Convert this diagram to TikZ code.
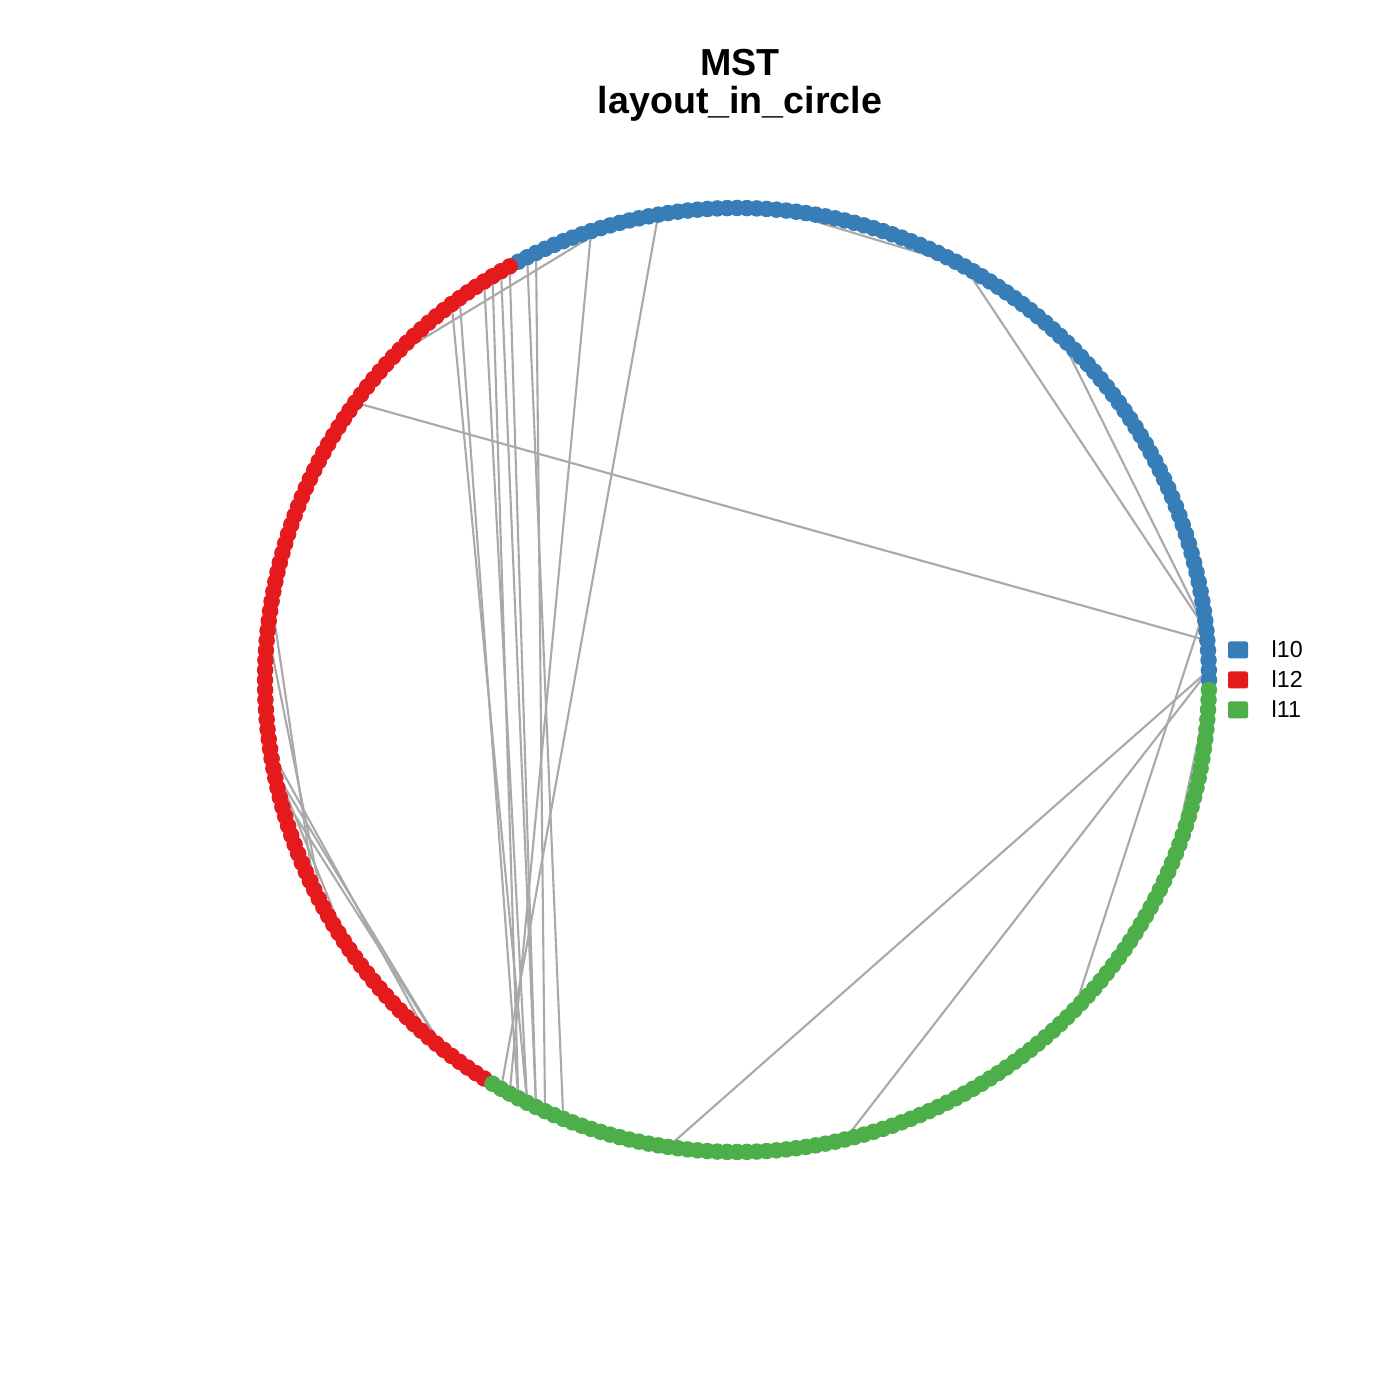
\documentclass[tikz,border=0pt]{standalone}
\usepackage{fontspec}
\setmainfont{Liberation Sans}
\definecolor{cblue}{HTML}{377EB8}
\definecolor{cred}{HTML}{E41A1C}
\definecolor{cgreen}{HTML}{4DAF4A}
\definecolor{edgegray}{HTML}{A9A9A9}
\tikzset{
  vdot/.style={circle, inner sep=0pt, minimum size=0.165cm, draw=none},
  edge/.style={draw=edgegray, line width=0.6pt},
  legbox/.style={rectangle, rounded corners=0.6pt, inner sep=0pt, minimum width=0.2cm, minimum height=0.17cm, draw=none},
  legtext/.style={anchor=base west, inner sep=0pt, font=\fontsize{6.6pt}{8pt}\selectfont},
  titletext/.style={anchor=base, inner sep=0pt, font=\fontsize{10.7pt}{12pt}\selectfont\bfseries}
}
\begin{document}
\begin{tikzpicture}[x=0.01cm,y=0.01cm]
\useasboundingbox (0,0) rectangle (1400,1400);
\fill[white] (0,0) rectangle (1400,1400);
\node[titletext] (t1) at (740,1324) {MST};
\node[titletext] (t2) at (740,1286) {layout\_in\_circle};
\begin{scope}[shift={(737,720)}]
  \foreach \i in {0,...,299} \coordinate (p\i) at ({\i*1.2}:472);
  \foreach \a/\b in {120/4, 83/200, 90/201, 106/203, 105/202, 102/203, 101/202,
                     100/204, 99/204, 97/207, 96/205,
                     114/88, 108/93, 103/92,
                     51/5, 39/5, 71/51, 51/40,
                     7/263, 1/218, 1/236,
                     299/281, 297/282, 295/281, 263/250,
                     142/172, 145/174, 161/193, 159/193, 157/191, 158/179}
    \draw[edge] (p\a) -- (p\b);
  \foreach \i in {0,...,98} \node[vdot, fill=cblue] (v\i) at (p\i) {};
  \foreach \i in {99,...,198} \node[vdot, fill=cred] (v\i) at (p\i) {};
  \foreach \i in {199,...,299} \node[vdot, fill=cgreen] (v\i) at (p\i) {};
\end{scope}
\node[legbox, fill=cblue] (k1) at (1238,750) {};
\node[legbox, fill=cred] (k2) at (1238,720) {};
\node[legbox, fill=cgreen] (k3) at (1238,690) {};
\node[legtext] (l1) at (1271,742) {l10};
\node[legtext] (l2) at (1271,712) {l12};
\node[legtext] (l3) at (1271,682) {l11};
\end{tikzpicture}
\end{document}
